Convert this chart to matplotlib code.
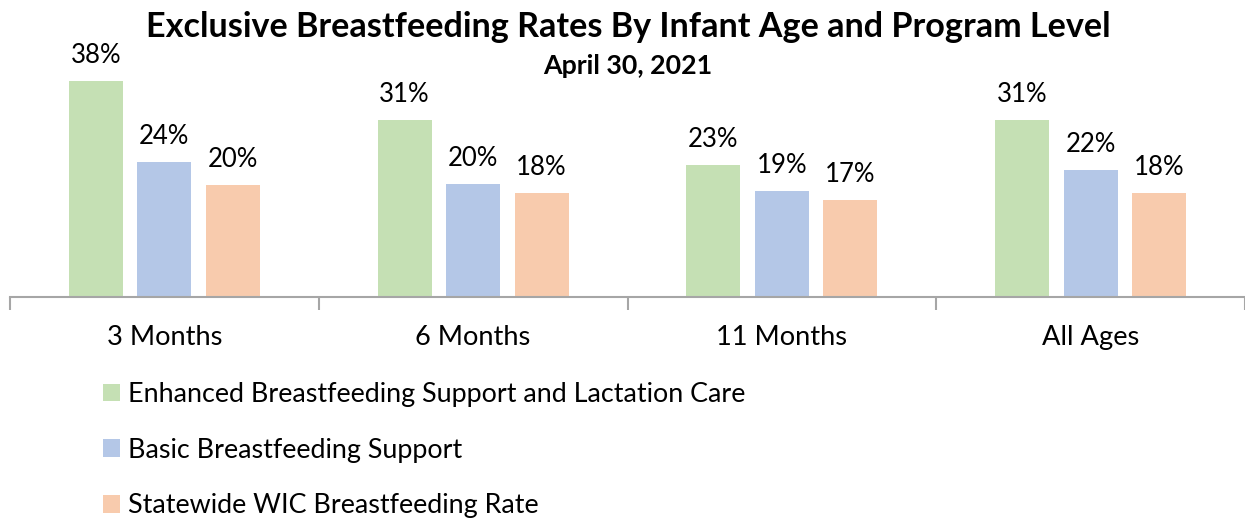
import numpy as np
import matplotlib
matplotlib.use("Agg")
import matplotlib.pyplot as plt
from matplotlib.patches import Patch

plt.rcParams['font.family'] = ['Lato', 'DejaVu Sans']

categories = ['3 Months', '6 Months', '11 Months', 'All Ages']
series_names = ['Enhanced Breastfeeding Support and Lactation Care',
                'Basic Breastfeeding Support',
                'Statewide WIC Breastfeeding Rate']
enhanced = [38.3, 31.4, 23.4, 31.4]
basic = [23.9, 20.0, 18.8, 22.4]
statewide = [19.8, 18.4, 17.2, 18.4]
colors = ['#C5E0B4', '#B4C7E7', '#F8CBAD']

W, H = 1245, 522
fig = plt.figure(figsize=(W / 100, H / 100), dpi=100)
ax = fig.add_axes([10 / W, 1 - 297 / H, 1 - 10 / W, 297 / H])

x = np.arange(len(categories))
width = 0.175
step = 0.222
for i, (vals, col) in enumerate(zip([enhanced, basic, statewide], colors)):
    pos = x + (i - 1) * step
    ax.bar(pos, vals, width=width, color=col, zorder=2)
    for p, v in zip(pos, vals):
        ax.text(p, v + 2.3, '%d%%' % round(v), ha='center', va='bottom', fontsize=18.5)

ax.set_xlim(-0.5, len(categories) - 0.5)
ax.set_ylim(0, 297 / 5.65)
for s in ['top', 'right', 'left']:
    ax.spines[s].set_visible(False)
ax.spines['bottom'].set_color('#A6A6A6')
ax.spines['bottom'].set_linewidth(1.5)
ax.set_yticks([])
ax.set_xticks(np.arange(-0.5, len(categories)), labels=[])
ax.tick_params(axis='x', which='major', length=9, color='#A6A6A6', width=1.5)
ax.set_xticks(x, labels=categories, minor=True)
ax.tick_params(axis='x', which='minor', length=0, pad=20, labelsize=19.6)

fig.text(628 / W, 1 - 27 / H, 'Exclusive Breastfeeding Rates By Infant Age and Program Level',
         ha='center', va='center', fontsize=24.6, fontweight='bold')
fig.text(628 / W, 1 - 66 / H, 'April 30, 2021', ha='center', va='center',
         fontsize=19.3, fontweight='bold')

handles = [Patch(facecolor=c, edgecolor='none') for c in colors]
fig.legend(handles, series_names, loc='upper left', bbox_to_anchor=(103 / W, 1 - 382 / H),
           frameon=False, fontsize=19.4, handlelength=0.63, handleheight=0.63,
           handletextpad=0.3, labelspacing=1.14, borderpad=0, borderaxespad=0)

fig.savefig('out.png', dpi=100)
